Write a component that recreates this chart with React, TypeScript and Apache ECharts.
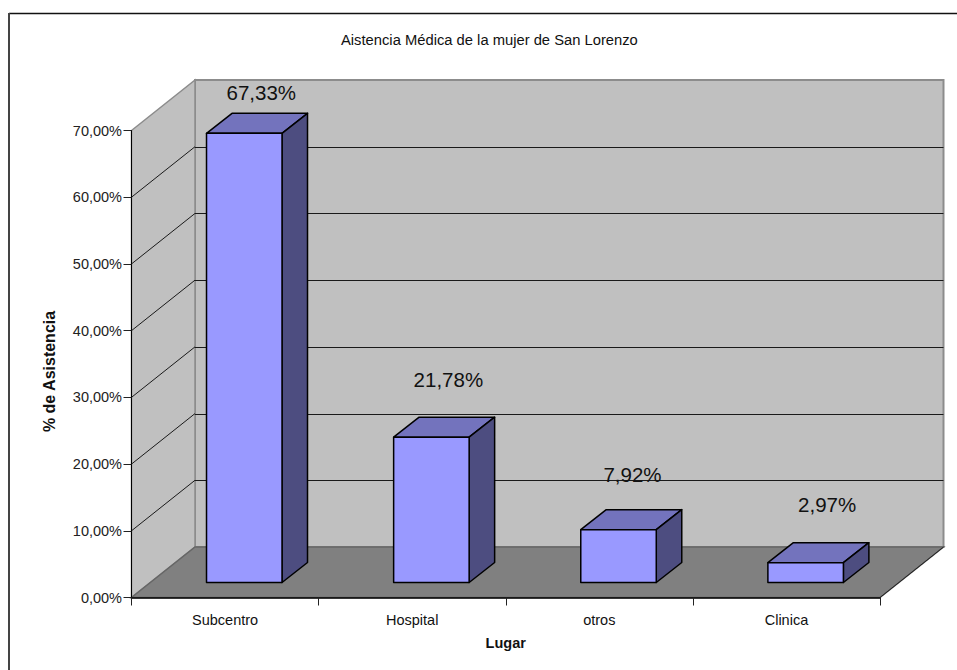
import React, { useEffect, useRef } from "react";
import * as echarts from "echarts";

const chartTitle = "Aistencia Médica de la mujer de San Lorenzo";
const xAxisTitle = "Lugar";
const yAxisTitle = "% de Asistencia";
const categories = ["Subcentro", "Hospital", "otros", "Clinica"];
const percentages = [67.33, 21.78, 7.92, 2.97];
const valueLabels = ["67,33%", "21,78%", "7,92%", "2,97%"];
const yTicks = [0, 10, 20, 30, 40, 50, 60, 70];
const yTickLabels = ["0,00%", "10,00%", "20,00%", "30,00%", "40,00%", "50,00%", "60,00%", "70,00%"];

const FONT = '"Liberation Sans", Arial, sans-serif';
const FONT_SIZE = 14.5;

// Oblique projection of the 3D look, in pixels
const WALL_DX = 63.5;
const WALL_DY = -50.5;
const BAR_SHIFT_X = 19.2;
const BAR_SHIFT_Y = -15;
const BAR_WIDTH = 75.5;
const BAR_DX = 25.5;
const BAR_DY = -20;
// Hand placement of each value label, relative to the bar's front-top centre
const LABEL_DX = [17, 17, 14, 21.5];
const LABEL_DY = [-40.5, -58, -55, -58.5];

const poly = (points: number[][], style: any, z2 = 0) => ({
  type: "polygon",
  z2,
  shape: { points },
  style,
});

const renderWalls = (params: any) => {
  const c = params.coordSys;
  const l = c.x;
  const r = c.x + c.width;
  const t = c.y;
  const b = c.y + c.height;
  const dx = WALL_DX;
  const dy = WALL_DY;
  return {
    type: "group",
    children: [
      poly(
        [[l + dx, t + dy], [r + dx, t + dy], [r + dx, b + dy], [l + dx, b + dy]],
        { fill: "#C0C0C0", stroke: "#8C8C8C", lineWidth: 2 }
      ),
      poly(
        [[l, t], [l + dx, t + dy], [l + dx, b + dy], [l, b]],
        { fill: "#C0C0C0", stroke: "#8C8C8C", lineWidth: 1.5 }
      ),
      poly(
        [[l, b], [r, b], [r + dx, b + dy], [l + dx, b + dy]],
        { fill: "#808080", stroke: "#666666", lineWidth: 1.5 }
      ),
      {
        type: "line",
        shape: { x1: r, y1: b, x2: r + dx, y2: b + dy },
        style: { stroke: "#222222", lineWidth: 1 },
      },
    ],
  };
};

const renderGridline = (params: any, api: any) => {
  const v = api.value(1);
  const c = params.coordSys;
  const y = api.coord([0, v])[1];
  const lineStyle = { stroke: "#1A1A1A", lineWidth: 1 };
  return {
    type: "group",
    children: [
      {
        type: "line",
        shape: { x1: c.x, y1: y, x2: c.x + WALL_DX, y2: y + WALL_DY },
        style: lineStyle,
      },
      {
        type: "line",
        shape: {
          x1: c.x + WALL_DX,
          y1: Math.round(y + WALL_DY) + 0.5,
          x2: c.x + c.width + WALL_DX,
          y2: Math.round(y + WALL_DY) + 0.5,
        },
        style: lineStyle,
      },
    ],
  };
};

const renderBar = (params: any, api: any) => {
  const i = api.value(0);
  const [cx, base] = api.coord([i, 0]);
  const top = api.coord([i, api.value(1)])[1] + BAR_SHIFT_Y;
  const bottom = base + BAR_SHIFT_Y;
  const x0 = cx + BAR_SHIFT_X - BAR_WIDTH / 2;
  const x1 = x0 + BAR_WIDTH;
  const edge = { stroke: "#000000", lineWidth: 1.5, lineJoin: "round" };
  return {
    type: "group",
    children: [
      poly(
        [[x0, top], [x1, top], [x1 + BAR_DX, top + BAR_DY], [x0 + BAR_DX, top + BAR_DY]],
        { fill: "#7373BD", ...edge }
      ),
      poly(
        [[x1, top], [x1 + BAR_DX, top + BAR_DY], [x1 + BAR_DX, bottom + BAR_DY], [x1, bottom]],
        { fill: "#4D4D80", ...edge }
      ),
      poly(
        [[x0, top], [x1, top], [x1, bottom], [x0, bottom]],
        { fill: "#9999FF", ...edge }
      ),
      {
        type: "text",
        z2: 10,
        style: {
          text: valueLabels[i],
          x: x0 + BAR_WIDTH / 2 + LABEL_DX[i],
          y: top + LABEL_DY[i],
          align: "center",
          verticalAlign: "middle",
          fill: "#111111",
          font: `20.5px ${FONT}`,
        },
      },
    ],
  };
};

export default function App() {
  const ref = useRef<HTMLDivElement>(null);

  useEffect(() => {
    const chart = echarts.init(ref.current!, undefined, { renderer: "svg" });
    chart.setOption({
      animation: false,
      backgroundColor: "#FFFFFF",
      title: {
        text: chartTitle,
        left: 336,
        top: 27,
        textStyle: {
          fontFamily: FONT,
          fontSize: 14.75,
          fontWeight: "normal",
          color: "#111111",
        },
      },
      grid: { left: 131.5, top: 130.5, width: 748.5, height: 467 },
      xAxis: {
        type: "category",
        data: categories,
        z: 5,
        name: xAxisTitle,
        nameLocation: "middle",
        nameGap: 38,
        nameTextStyle: { fontFamily: FONT, fontSize: FONT_SIZE, fontWeight: "bold", color: "#111111" },
        axisLine: { show: true, lineStyle: { color: "#000000", width: 1.5 } },
        axisTick: { show: true, alignWithLabel: false, length: 8, lineStyle: { color: "#222222", width: 1 } },
        axisLabel: { fontFamily: FONT, fontSize: FONT_SIZE, color: "#111111", margin: 15, interval: 0 },
        splitLine: { show: false },
      },
      yAxis: {
        type: "value",
        min: 0,
        max: 70,
        interval: 10,
        z: 5,
        name: yAxisTitle,
        nameLocation: "middle",
        nameRotate: 90,
        nameGap: 74,
        nameTextStyle: {
          fontFamily: FONT,
          fontSize: 16,
          fontWeight: "bold",
          color: "#111111",
          padding: [0, 15, 0, 0],
        },
        axisLine: { show: true, lineStyle: { color: "#000000", width: 1 } },
        axisTick: { show: true, length: 8, lineStyle: { color: "#222222", width: 1 } },
        axisLabel: {
          fontFamily: FONT,
          fontSize: FONT_SIZE,
          color: "#222222",
          margin: 9.5,
          formatter: (v: number) => yTickLabels[yTicks.indexOf(v)],
        },
        splitLine: { show: false },
      },
      series: [
        {
          type: "custom",
          z: 1,
          silent: true,
          data: [[0, 0]],
          encode: { x: 0, y: 1 },
          renderItem: renderWalls,
        },
        {
          type: "custom",
          z: 2,
          silent: true,
          data: yTicks.slice(1, -1).map((v) => [0, v]),
          encode: { x: 0, y: 1 },
          renderItem: renderGridline,
        },
        {
          type: "custom",
          z: 3,
          silent: true,
          data: percentages.map((v, i) => [i, v]),
          encode: { x: 0, y: 1 },
          renderItem: renderBar,
        },
      ],
      graphic: [
        {
          type: "line",
          z: 10,
          shape: { x1: 9, y1: 13.5, x2: 957, y2: 13.5 },
          style: { stroke: "#111111", lineWidth: 1.5 },
        },
        {
          type: "line",
          z: 10,
          shape: { x1: 9, y1: 13, x2: 9, y2: 670 },
          style: { stroke: "#444444", lineWidth: 2 },
        },
      ],
    });
    return () => chart.dispose();
  }, []);

  return <div ref={ref} style={{ position: "absolute", left: 0, top: 0, width: 957, height: 670 }} />;
}
